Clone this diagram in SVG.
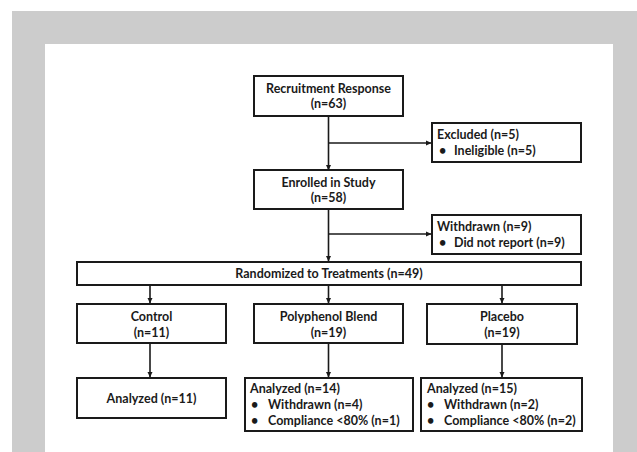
<svg xmlns="http://www.w3.org/2000/svg" width="637" height="452" viewBox="0 0 637 452">
<defs>
<marker id="ah" markerWidth="6" markerHeight="6" refX="5" refY="3" orient="auto" markerUnits="userSpaceOnUse">
<path d="M0,0.5 L5.5,3 L0,5.5 Z" fill="#1a1a1a"/>
</marker>
<style>
.box{fill:#fff;stroke:#1a1a1a;stroke-width:2}
.t{font-family:Lato,"Open Sans","Liberation Sans",sans-serif;font-weight:bold;font-size:12.5px;fill:#1a1a1a}
.c{text-anchor:middle}
.ln{stroke:#1a1a1a;stroke-width:1.6;fill:none}
</style>
</defs>
<rect x="0" y="0" width="637" height="452" fill="#fff"/>
<rect x="12" y="11" width="625" height="441" fill="#cccccc"/>
<rect x="45" y="44" width="568" height="408" fill="#fff"/>

<g id="connectors">
<line class="ln" x1="328.5" y1="116" x2="328.5" y2="170" marker-end="url(#ah)"/>
<line class="ln" x1="328.5" y1="143" x2="431" y2="143" marker-end="url(#ah)"/>
<line class="ln" x1="328.5" y1="209" x2="328.5" y2="261" marker-end="url(#ah)"/>
<line class="ln" x1="328.5" y1="234" x2="431" y2="234" marker-end="url(#ah)"/>
<line class="ln" x1="150" y1="285" x2="150" y2="303" marker-end="url(#ah)"/>
<line class="ln" x1="328.5" y1="285" x2="328.5" y2="303" marker-end="url(#ah)"/>
<line class="ln" x1="502" y1="285" x2="502" y2="303" marker-end="url(#ah)"/>
<line class="ln" x1="150" y1="343" x2="150" y2="377" marker-end="url(#ah)"/>
<line class="ln" x1="328.5" y1="343" x2="328.5" y2="377" marker-end="url(#ah)"/>
<line class="ln" x1="502" y1="344" x2="502" y2="377" marker-end="url(#ah)"/>
</g>

<g id="recruitment">
<rect class="box" x="254" y="76" width="149" height="40"/>
<text class="t c" x="328.5" y="93">Recruitment Response</text>
<text class="t c" x="328.5" y="108">(n=63)</text>
</g>
<g id="excluded">
<rect class="box" x="432" y="123" width="149" height="39"/>
<text class="t" x="437" y="139">Excluded (n=5)</text>
<text class="t" x="439" y="155">•</text>
<text class="t" x="454" y="155">Ineligible (n=5)</text>
</g>
<g id="enrolled">
<rect class="box" x="254" y="170" width="149" height="39"/>
<text class="t c" x="328.5" y="187">Enrolled in Study</text>
<text class="t c" x="328.5" y="202">(n=58)</text>
</g>
<g id="withdrawn">
<rect class="box" x="432" y="215" width="149" height="39"/>
<text class="t" x="437" y="231">Withdrawn (n=9)</text>
<text class="t" x="439" y="247">•</text>
<text class="t" x="454" y="247">Did not report (n=9)</text>
</g>
<g id="randomized">
<rect class="box" x="77" y="262" width="504" height="23"/>
<text class="t c" x="329" y="278">Randomized to Treatments (n=49)</text>
</g>
<g id="control">
<rect class="box" x="77" y="304" width="149" height="39"/>
<text class="t c" x="151.5" y="321">Control</text>
<text class="t c" x="151.5" y="337">(n=11)</text>
</g>
<g id="polyphenol">
<rect class="box" x="254" y="304" width="149" height="39"/>
<text class="t c" x="328.5" y="321">Polyphenol Blend</text>
<text class="t c" x="328.5" y="337">(n=19)</text>
</g>
<g id="placebo">
<rect class="box" x="427" y="304" width="150" height="40"/>
<text class="t c" x="502" y="321">Placebo</text>
<text class="t c" x="502" y="337">(n=19)</text>
</g>
<g id="analyzed-control">
<rect class="box" x="77" y="378" width="149" height="40"/>
<text class="t c" x="151.5" y="403">Analyzed (n=11)</text>
</g>
<g id="analyzed-polyphenol">
<rect class="box" x="245" y="378" width="168" height="53"/>
<text class="t" x="250" y="393">Analyzed (n=14)</text>
<text class="t" x="251" y="409">•</text>
<text class="t" x="268" y="409">Withdrawn (n=4)</text>
<text class="t" x="251" y="425">•</text>
<text class="t" x="268" y="425">Compliance &lt;80% (n=1)</text>
</g>
<g id="analyzed-placebo">
<rect class="box" x="421" y="378" width="161" height="53"/>
<text class="t" x="427" y="393">Analyzed (n=15)</text>
<text class="t" x="427" y="409">•</text>
<text class="t" x="444" y="409">Withdrawn (n=2)</text>
<text class="t" x="427" y="425">•</text>
<text class="t" x="444" y="425">Compliance &lt;80% (n=2)</text>
</g>
</svg>
